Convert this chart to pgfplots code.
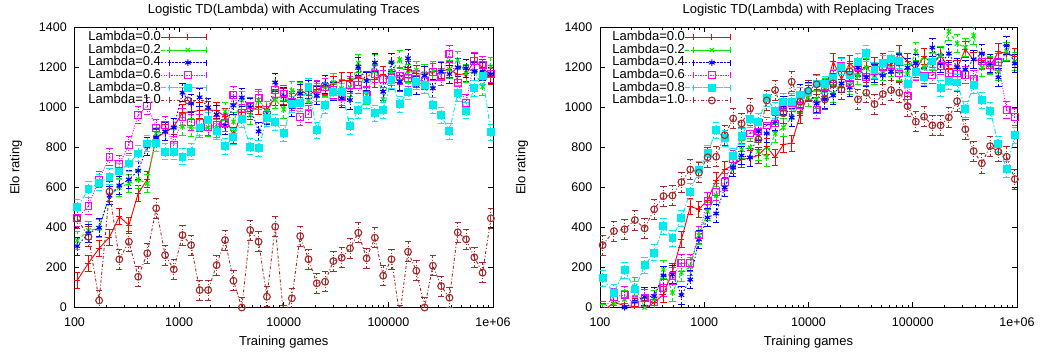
\documentclass[border=0pt]{standalone}
\usepackage{fontspec}
\setmainfont{Liberation Sans}
\usepackage{pgfplots}
\pgfplotsset{compat=1.18}
\usepackage{pgfplotstable}

\definecolor{gpred}{RGB}{255,0,0}
\definecolor{gpgreen}{RGB}{0,235,0}
\definecolor{gpblue}{RGB}{0,0,255}
\definecolor{gpmag}{RGB}{255,0,255}
\definecolor{gpcyan}{RGB}{0,235,235}
\definecolor{gpbrown}{RGB}{165,42,42}
\newcommand{\fnt}{\fontsize{13bp}{15bp}\selectfont}
\newcommand{\tfnt}{\fontsize{12.5bp}{14bp}\selectfont}

\pgfplotstableread{
x a b c d e f
106 135 335 307 446 501 445
136 222 385 371 507 591 354
172 296 395 399 640 624 35
216 352 560 560 751 654 580
268 454 600 610 717 680 241
331 412 620 640 812 720 329
406 570 640 684 962 770 154
496 640 620 805 1007 820 271
604 850 870 850 896 821 496
734 875 880 880 912 779 262
890 904 900 900 812 779 191
1077 975 905 1074 954 754 362
1301 978 900 1020 925 779 312
1571 985 895 1051 921 900 87
1894 988 900 1001 904 937 87
2281 985 896 965 912 880 212
2747 955 980 908 921 807 337
3305 860 928 1010 1062 854 134
3975 975 1037 1050 971 941 0
4779 980 962 1001 1010 804 387
5744 1005 1037 880 1046 797 329
6902 990 985 960 962 946 54
8291 1050 1040 1125 1087 927 404
9958 1054 990 1054 1070 871 -40
11959 1040 1085 1001 1029 1017 46
14360 1090 1080 1070 954 1021 357
17241 1060 1035 1091 967 1104 241
20698 1090 1075 1060 1091 887 121
24847 1105 1100 1117 1104 1012 129
29825 1115 1125 1080 1087 1079 232
35799 1133 1095 1046 1054 1079 249
42968 1137 1100 1037 1112 907 296
51570 1148 1222 1204 1112 987 374
61893 1140 1060 1132 1062 1037 246
74281 1139 1221 1224 1166 971 349
89146 1165 1040 1079 1141 987 159
106984 1130 1180 1226 1150 1137 241
128390 1120 1240 1129 1157 1017 -40
154077 1190 1170 1246 1146 1079 279
184901 1170 1187 1112 1141 1129 184
221890 1165 1170 1160 1134 1112 0
266278 1180 1185 1096 1176 1012 209
319542 1183 1185 1180 1154 962 107
383460 1190 1190 1167 1267 882 49
460161 1165 1237 1201 1124 1071 376
552201 1168 1170 1196 1021 984 341
662650 1232 1180 1180 1234 1096 251
795190 1200 1104 1180 1212 1157 174
954237 1155 1204 1167 1167 876 446
}\accdata

\pgfplotstableread{
x a b c d e f
106 -20 -30 -50 -10 146 312
136 25 20 -20 54 74 382
172 10 40 0 62 187 391
216 5 103 30 15 90 437
268 -5 0 54 46 212 396
331 25 40 57 25 274 491
406 65 190 160 96 407 557
496 180 75 165 158 346 560
604 340 175 62 221 446 627
734 505 205 140 221 579 690
890 491 360 340 364 690 674
1077 537 480 450 532 771 751
1301 637 560 470 579 887 754
1571 690 600 600 629 846 862
1894 712 700 700 741 757 945
2281 741 790 760 860 857 920
2747 746 800 750 870 941 996
3305 762 780 880 880 929 840
3975 804 752 870 910 1046 1035
4779 750 870 930 920 984 1087
5744 815 900 1010 1000 1029 971
6902 822 950 950 1020 1029 1129
8291 960 1020 1070 1010 1062 1029
9958 1070 1050 1080 1080 1079 1084
11959 1090 1040 1020 987 1120 1116
14360 1080 1100 1040 1100 1117 1040
17241 1229 1070 1060 1141 1150 1120
20698 1141 1120 1120 1207 1204 1090
24847 1221 1110 1100 1120 1160 1180
29825 1180 1160 1200 1200 1229 1040
35799 1200 1200 1150 1151 1271 1074
42968 1210 1160 1170 1180 1187 1017
51570 1230 1180 1160 1200 1221 1067
61893 1210 1200 1180 1210 1241 1087
74281 1271 1180 1220 1170 1234 1074
89146 1230 1170 1200 1057 1117 1007
106984 1190 1280 1220 1179 1179 929
128390 1257 1200 1150 1160 1151 954
154077 1215 1230 1300 1160 1230 911
184901 1262 1260 1220 1207 1096 911
221890 1196 1380 1270 1174 1132 951
266278 1196 1320 1200 1170 1125 1032
319542 1291 1300 1190 1162 991 891
383460 1237 1360 1240 1141 1112 782
460161 1237 1200 1270 1230 1037 721
552201 1204 1210 1220 1210 984 807
662650 1279 1180 1150 1229 817 779
795190 1270 1280 1310 987 691 754
954237 1254 1230 1220 951 862 642
}\repdata

\pgfplotsset{
  gpaxis/.style={
    scale only axis, height=280bp,
    xmin=100, xmax=1000000, ymin=0, ymax=1400,
    xtick={100,1000,10000,100000,1000000},
    xticklabels={100,1000,10000,100000,1e+06},
    minor xtick={200,300,400,500,600,700,800,900,2000,3000,4000,5000,6000,7000,8000,9000,20000,30000,40000,50000,60000,70000,80000,90000,200000,300000,400000,500000,600000,700000,800000,900000},
    ytick={0,200,400,600,800,1000,1200,1400},
    yticklabels={0,200,400,600,800,1000,1200,1400},
    tick align=inside,
    major tick length=5bp, minor tick length=2.5bp,
    every tick/.style={black, line width=0.6bp},
    axis line style={line width=0.9bp},
    tick label style={font=\tfnt},
    xticklabel style={anchor=base, yshift=-19.2bp},
    yticklabel style={anchor=east, inner sep=0pt, xshift=-7.5bp},
    every axis title/.style={at={(axis description cs:0.5,1)}, anchor=base, yshift=14bp, font=\fnt},
    every axis x label/.style={at={(axis description cs:0.5,0)}, anchor=base, yshift=-37.5bp, font=\fnt},
    xlabel={Training games}, ylabel={Elo rating},
    legend cell align=right, legend plot pos=right,
    legend style={anchor=north west, draw=none, fill=none, inner sep=0pt, outer sep=0pt,
      row sep=0pt, column sep=0pt, font=\fnt,
      nodes={inner sep=0pt, text height=9.5bp, text depth=3.1bp}},
    legend image code/.code={
      \path (0bp,0bp) -- (45bp,0bp);
      \draw[mark repeat=2, mark phase=2, ##1] plot coordinates {(8bp,0bp) (26.5bp,0bp) (45bp,0bp)};
      \draw[##1, solid, mark=none, line width=1bp] (8bp,-3bp) -- (8bp,3bp) (45bp,-3bp) -- (45bp,3bp);
    },
  },
  sdef/.style n args={4}{color=#1, #2, line width=0.9bp,
    mark options={solid, line width=1.1bp, draw=#1, fill=#1},
    error bars/y dir=both, error bars/y fixed=#3,
    error bars/error bar style={color=#1, draw=#1, #2, line width=1bp},
    error bars/error mark options={rotate=90, mark size=#4, solid, color=#1, draw=#1, line width=1bp}},
  s0/.style={sdef={gpred}{solid}{40}{3.2bp}, mark=+, mark size=3bp},
  s2/.style={sdef={gpgreen}{dash pattern=on 3.5bp off 2.5bp}{45}{3.2bp}, mark=x, mark size=3bp},
  s4/.style={sdef={gpblue}{dash pattern=on 1.5bp off 2bp}{45}{3.2bp}, mark=asterisk, mark size=3.2bp},
  s6/.style={sdef={gpmag}{dash pattern=on 1bp off 1.5bp}{42}{3.2bp}, mark=square, mark size=3.4bp},
  s8/.style={sdef={gpcyan}{dash pattern=on 5bp off 2bp on 1.5bp off 2bp}{40}{3.2bp}, mark=square*, mark size=3.4bp},
  s10/.style={sdef={gpbrown}{dash pattern=on 3bp off 2bp on 1bp off 2bp}{50}{3.2bp}, mark=o, mark size=3.4bp},
}

\begin{document}
\begin{tikzpicture}
\useasboundingbox (0,0) rectangle (1042bp,356bp);
\begin{semilogxaxis}[gpaxis, at={(74.5bp,48.5bp)}, anchor=south west, width=418.5bp,
  title={Logistic TD(Lambda) with Accumulating Traces},
  every axis y label/.style={at={(axis description cs:-0.14,0.5)}, rotate=90, anchor=center, font=\fnt},
  legend style={at={(axis description cs:0.033,0.987)}}]
\addplot[s0] table[x=x,y=a] {\accdata};
\addplot[s2] table[x=x,y=b] {\accdata};
\addplot[s4] table[x=x,y=c] {\accdata};
\addplot[s6] table[x=x,y=d] {\accdata};
\addplot[s8] table[x=x,y=e] {\accdata};
\addplot[s10] table[x=x,y=f] {\accdata};
\legend{Lambda=0.0,Lambda=0.2,Lambda=0.4,Lambda=0.6,Lambda=0.8,Lambda=1.0}
\end{semilogxaxis}
\begin{semilogxaxis}[gpaxis, at={(600bp,48.5bp)}, anchor=south west, width=417bp,
  title={Logistic TD(Lambda) with Replacing Traces},
  every axis y label/.style={at={(axis description cs:-0.187,0.5)}, rotate=90, anchor=center, font=\fnt},
  legend style={at={(axis description cs:0.0295,0.987)}}]
\addplot[s0] table[x=x,y=a] {\repdata};
\addplot[s2] table[x=x,y=b] {\repdata};
\addplot[s4] table[x=x,y=c] {\repdata};
\addplot[s6] table[x=x,y=d] {\repdata};
\addplot[s8] table[x=x,y=e] {\repdata};
\addplot[s10] table[x=x,y=f] {\repdata};
\legend{Lambda=0.0,Lambda=0.2,Lambda=0.4,Lambda=0.6,Lambda=0.8,Lambda=1.0}
\end{semilogxaxis}
\end{tikzpicture}
\end{document}
